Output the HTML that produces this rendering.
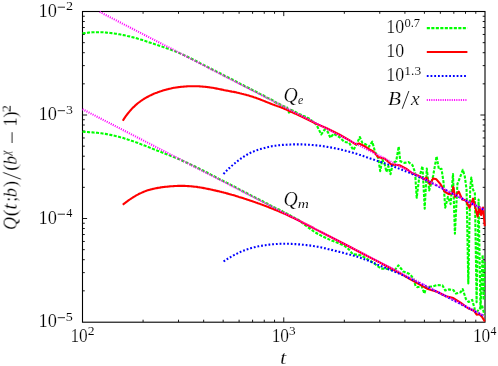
<!DOCTYPE html>
<html lang="en">
<head>
<meta charset="utf-8">
<title>Q(t;b) scaling plot</title>
<style>
html,body{margin:0;padding:0;background:#ffffff;}
body{width:498px;height:366px;overflow:hidden;font-family:"Liberation Serif",serif;}
svg{display:block;}
text{font-family:"Liberation Serif",serif;}
</style>
</head>
<body>
<svg width="498" height="366" viewBox="0 0 498 366">
<rect width="498" height="366" fill="#ffffff"/>
<defs><clipPath id="c"><rect x="82.0" y="11.0" width="403.9" height="311.5"/></clipPath></defs>
<path d="M143.08,322.00v-2.30M143.08,11.50v2.30M178.52,322.00v-2.30M178.52,11.50v2.30M203.66,322.00v-2.30M203.66,11.50v2.30M223.17,322.00v-2.30M223.17,11.50v2.30M239.10,322.00v-2.30M239.10,11.50v2.30M252.58,322.00v-2.30M252.58,11.50v2.30M264.25,322.00v-2.30M264.25,11.50v2.30M274.54,322.00v-2.30M274.54,11.50v2.30M283.75,322.00v-4.60M283.75,11.50v4.60M344.33,322.00v-2.30M344.33,11.50v2.30M379.77,322.00v-2.30M379.77,11.50v2.30M404.91,322.00v-2.30M404.91,11.50v2.30M424.42,322.00v-2.30M424.42,11.50v2.30M440.35,322.00v-2.30M440.35,11.50v2.30M453.83,322.00v-2.30M453.83,11.50v2.30M465.50,322.00v-2.30M465.50,11.50v2.30M475.79,322.00v-2.30M475.79,11.50v2.30M82.50,290.84h2.30M485.00,290.84h-2.30M82.50,272.62h2.30M485.00,272.62h-2.30M82.50,259.69h2.30M485.00,259.69h-2.30M82.50,249.66h2.30M485.00,249.66h-2.30M82.50,241.46h2.30M485.00,241.46h-2.30M82.50,234.53h2.30M485.00,234.53h-2.30M82.50,228.53h2.30M485.00,228.53h-2.30M82.50,223.24h2.30M485.00,223.24h-2.30M82.50,218.50h4.60M485.00,218.50h-4.60M82.50,187.34h2.30M485.00,187.34h-2.30M82.50,169.12h2.30M485.00,169.12h-2.30M82.50,156.19h2.30M485.00,156.19h-2.30M82.50,146.16h2.30M485.00,146.16h-2.30M82.50,137.96h2.30M485.00,137.96h-2.30M82.50,131.03h2.30M485.00,131.03h-2.30M82.50,125.03h2.30M485.00,125.03h-2.30M82.50,119.74h2.30M485.00,119.74h-2.30M82.50,115.00h4.60M485.00,115.00h-4.60M82.50,83.84h2.30M485.00,83.84h-2.30M82.50,65.62h2.30M485.00,65.62h-2.30M82.50,52.69h2.30M485.00,52.69h-2.30M82.50,42.66h2.30M485.00,42.66h-2.30M82.50,34.46h2.30M485.00,34.46h-2.30M82.50,27.53h2.30M485.00,27.53h-2.30M82.50,21.53h2.30M485.00,21.53h-2.30M82.50,16.24h2.30M485.00,16.24h-2.30" fill="none" stroke="#000" stroke-width="0.9"/>
<rect x="82.5" y="11.5" width="402.5" height="310.7" fill="none" stroke="#000" stroke-width="1.1"/>
<g fill="none" stroke-linejoin="round" stroke-linecap="butt" clip-path="url(#c)">
<polyline stroke="#00ff00" stroke-width="2.1" stroke-dasharray="3.1 1.4" points="82.5,33.4 83.5,33.2 84.5,33.1 85.5,33.0 86.5,32.8 87.5,32.7 88.5,32.6 89.5,32.5 90.5,32.5 91.5,32.4 92.5,32.3 93.5,32.3 94.5,32.2 95.5,32.2 96.5,32.2 97.5,32.2 98.5,32.2 99.5,32.2 100.5,32.2 101.5,32.3 102.5,32.3 103.5,32.3 104.5,32.4 105.5,32.5 106.5,32.6 107.5,32.7 108.5,32.8 109.5,32.9 110.5,33.0 111.5,33.1 112.5,33.2 113.5,33.4 114.5,33.5 115.5,33.7 116.5,33.8 117.5,34.0 118.5,34.2 119.5,34.3 120.5,34.5 121.5,34.7 122.5,34.9 123.5,35.1 124.5,35.3 125.5,35.5 126.5,35.7 127.5,36.0 128.5,36.2 129.5,36.4 130.5,36.7 131.5,36.9 132.5,37.2 133.5,37.4 134.5,37.7 135.5,38.0 136.5,38.3 137.5,38.6 138.5,38.9 139.5,39.2 140.5,39.5 141.5,39.8 142.5,40.1 143.5,40.4 144.5,40.7 145.5,41.1 146.5,41.4 147.5,41.7 148.5,42.1 149.5,42.4 150.5,42.7 151.5,43.1 152.5,43.4 153.5,43.7 154.5,44.1 155.5,44.4 156.5,44.7 157.5,45.1 158.5,45.4 159.5,45.8 160.5,46.1 161.5,46.4 162.5,46.8 163.5,47.1 164.5,47.5 165.5,47.8 166.5,48.2 167.5,48.5 168.5,48.9 169.5,49.2 170.5,49.6 171.5,50.0 172.5,50.4 173.5,50.7 174.5,51.1 175.5,51.5 176.5,51.9 177.5,52.3 178.5,52.7 179.5,53.1 180.5,53.6 181.5,54.0 182.5,54.4 183.5,54.9 184.5,55.4 185.5,55.8 186.5,56.3 187.5,56.8 188.5,57.3 189.5,57.7 190.5,58.2 191.5,58.7 192.5,59.2 193.5,59.8 194.5,60.3 195.5,60.8 196.5,61.3 197.5,61.8 198.5,62.3 199.5,62.8 200.5,63.4 201.5,63.9 202.5,64.4 203.5,64.9 204.5,65.4 205.5,66.0 206.5,66.5 207.5,67.0 208.5,67.5 209.5,68.0 210.5,68.5 211.5,69.0 212.5,69.5 213.5,70.0 214.5,70.5 215.0,70.7 217.0,71.8 219.0,72.8 221.0,73.8 223.0,74.8 225.0,76.0 227.0,77.0 229.0,77.8 231.0,78.9 233.0,79.8 235.0,81.0 237.0,81.9 239.0,83.1 241.0,84.2 243.0,85.0 245.0,86.3 247.0,87.2 249.0,88.0 251.0,89.3 253.0,90.2 255.0,91.3 257.0,92.2 259.0,93.5 261.0,94.4 263.0,95.2 265.0,96.5 267.0,97.7 269.0,98.4 271.0,99.4 273.0,100.5 275.0,102.0 277.0,103.0 279.0,103.8 281.0,105.0 283.0,106.0 285.0,106.7 287.0,107.5 289.0,112.6 291.0,109.9 293.0,110.8 295.0,111.7 297.0,112.9 299.0,114.0 301.0,114.8 303.0,115.8 304.9,116.5 309.8,118.9 316.4,124.7 321.3,134.5 324.6,129.6 327.9,132.0 330.3,137.8 333.6,133.7 339.3,137.0 344.3,141.9 349.2,142.7 353.3,150.1 356.6,144.3 359.8,137.0 362.3,142.7 365.6,144.3 368.9,146.8 372.3,141.6 374.9,151.4 378.2,158.0 380.2,171.1 382.3,159.6 384.8,164.5 386.4,171.9 388.4,166.1 390.5,174.3 393.0,162.9 396.2,161.2 398.7,146.5 400.3,161.2 404.4,162.9 408.5,162.0 412.6,165.3 415.1,172.7 416.7,197.8 419.2,177.6 422.5,166.1 424.7,208.6 426.8,168.5 429.2,190.5 433.1,176.0 436.6,156.3 438.9,169.4 441.5,168.8 443.5,182.0 445.2,207.7 447.9,196.9 450.6,204.1 453.0,174.0 454.9,233.6 457.4,184.0 459.8,178.0 462.8,169.8 464.8,176.4 466.6,190.0 468.3,283.4 470.2,188.0 471.3,177.5 473.0,189.5 474.9,193.5 476.6,302.2 478.6,199.5 480.5,309.5 482.6,255.0 483.6,300.0 484.6,262.0"/>
<polyline stroke="#00ff00" stroke-width="2.1" stroke-dasharray="3.1 1.4" points="82.5,131.8 83.5,131.8 84.5,131.9 85.5,131.9 86.5,132.0 87.5,132.0 88.5,132.1 89.5,132.2 90.5,132.2 91.5,132.3 92.5,132.4 93.5,132.5 94.5,132.6 95.5,132.6 96.5,132.7 97.5,132.8 98.5,133.0 99.5,133.1 100.5,133.2 101.5,133.3 102.5,133.5 103.5,133.6 104.5,133.8 105.5,133.9 106.5,134.1 107.5,134.3 108.5,134.5 109.5,134.7 110.5,134.9 111.5,135.1 112.5,135.3 113.5,135.5 114.5,135.7 115.5,136.0 116.5,136.2 117.5,136.5 118.5,136.7 119.5,137.0 120.5,137.3 121.5,137.5 122.5,137.8 123.5,138.1 124.5,138.4 125.5,138.7 126.5,139.0 127.5,139.4 128.5,139.7 129.5,140.0 130.5,140.3 131.5,140.7 132.5,141.0 133.5,141.4 134.5,141.7 135.5,142.1 136.5,142.5 137.5,142.8 138.5,143.2 139.5,143.6 140.5,144.0 141.5,144.4 142.5,144.7 143.5,145.1 144.5,145.5 145.5,145.9 146.5,146.3 147.5,146.7 148.5,147.1 149.5,147.5 150.5,147.9 151.5,148.3 152.5,148.7 153.5,149.1 154.5,149.5 155.5,149.9 156.5,150.3 157.5,150.7 158.5,151.0 159.5,151.4 160.5,151.8 161.5,152.2 162.5,152.6 163.5,153.0 164.5,153.4 165.5,153.8 166.5,154.2 167.5,154.6 168.5,155.0 169.5,155.4 170.5,155.8 171.5,156.2 172.5,156.6 173.5,157.0 174.5,157.4 175.5,157.8 176.5,158.2 177.5,158.6 178.5,159.0 179.5,159.4 180.5,159.9 181.5,160.3 182.5,160.7 183.5,161.2 184.5,161.6 185.5,162.1 186.5,162.5 187.5,163.0 188.5,163.4 189.5,163.9 190.5,164.4 191.5,164.9 192.5,165.3 193.5,165.8 194.5,166.3 195.5,166.8 196.5,167.3 197.5,167.8 198.5,168.3 199.5,168.8 200.5,169.3 201.5,169.8 202.5,170.3 203.5,170.8 204.5,171.3 205.5,171.8 206.5,172.3 207.5,172.8 208.5,173.3 209.5,173.8 210.5,174.4 211.5,174.9 212.5,175.4 213.5,175.9 214.5,176.4 215.0,176.7 217.0,177.8 219.0,178.9 221.0,179.9 223.0,180.8 225.0,181.9 227.0,182.9 229.0,183.9 231.0,184.9 233.0,186.0 235.0,186.9 237.0,188.1 239.0,189.1 241.0,190.2 243.0,191.3 245.0,192.3 247.0,193.3 249.0,194.2 251.0,195.4 253.0,196.3 255.0,197.4 257.0,198.3 259.0,199.4 261.0,200.2 263.0,201.4 265.0,202.8 267.0,203.4 269.0,204.7 271.0,205.7 273.0,206.8 275.0,207.7 277.0,208.8 279.0,209.5 281.0,210.5 283.0,211.6 285.0,212.6 287.0,213.6 289.0,214.6 291.0,216.0 293.0,216.7 295.0,218.3 297.0,219.2 299.0,220.1 300.0,221.3 307.0,226.5 314.8,232.2 322.0,236.2 329.5,239.6 337.0,242.6 344.3,245.7 349.0,249.5 352.9,254.3 357.0,254.6 361.5,255.6 367.0,259.0 373.8,263.0 378.0,266.5 381.1,268.6 385.0,268.6 388.5,269.1 392.0,270.2 394.7,270.3 398.4,265.4 401.0,268.5 403.3,271.6 406.0,272.3 409.4,274.0 411.5,276.0 413.6,279.1 415.6,286.3 417.2,287.2 421.7,286.3 424.4,293.6 426.2,287.2 433.4,286.3 437.0,285.1 442.5,285.4 445.2,290.5 448.8,289.4 453.3,290.0 456.0,293.6 460.5,292.3 462.7,289.0 465.9,299.0 468.6,302.0 472.2,299.9 474.9,309.8 477.1,311.6 479.4,308.9 482.1,305.3 484.6,316.0"/>
<polyline stroke="#ff0000" stroke-width="2.1" points="122.8,120.7 123.8,119.1 124.8,117.6 125.8,116.2 126.8,114.8 127.8,113.5 128.8,112.3 129.8,111.1 130.8,110.0 131.8,108.9 132.8,107.8 133.8,106.9 134.8,105.9 135.8,105.0 136.8,104.1 137.8,103.3 138.8,102.5 139.8,101.8 140.8,101.0 141.8,100.3 142.8,99.7 143.8,99.0 144.8,98.4 145.8,97.8 146.8,97.2 147.8,96.7 148.8,96.2 149.8,95.6 150.8,95.2 151.8,94.7 152.8,94.3 153.8,93.8 154.8,93.4 155.8,93.0 156.8,92.7 157.8,92.3 158.8,91.9 159.8,91.6 160.8,91.3 161.8,90.9 162.8,90.6 163.8,90.3 164.8,90.0 165.8,89.7 166.8,89.4 167.8,89.2 168.8,88.9 169.8,88.7 170.8,88.5 171.8,88.2 172.8,88.0 173.8,87.8 174.8,87.7 175.8,87.5 176.8,87.4 177.8,87.2 178.8,87.1 179.8,87.0 180.8,86.9 181.8,86.8 182.8,86.7 183.8,86.6 184.8,86.5 185.8,86.5 186.8,86.4 187.8,86.3 188.8,86.3 189.8,86.3 190.8,86.2 191.8,86.2 192.8,86.2 193.8,86.2 194.8,86.2 195.8,86.2 196.8,86.3 197.8,86.3 198.8,86.3 199.8,86.4 200.8,86.5 201.8,86.5 202.8,86.6 203.8,86.7 204.8,86.8 205.8,86.9 206.8,87.0 207.8,87.1 208.8,87.2 209.8,87.4 210.8,87.5 211.8,87.7 212.8,87.8 213.8,88.0 214.8,88.2 215.8,88.4 216.8,88.6 217.8,88.8 218.8,89.0 219.8,89.2 220.8,89.4 221.8,89.6 222.8,89.8 223.8,90.1 224.8,90.3 225.8,90.5 226.8,90.6 227.8,90.8 228.8,91.0 229.8,91.2 230.8,91.4 231.8,91.6 232.8,91.7 233.8,91.9 234.8,92.1 235.8,92.3 236.8,92.6 237.8,92.8 238.8,93.0 239.8,93.3 240.8,93.5 241.8,93.8 242.8,94.0 243.8,94.3 244.8,94.5 245.8,94.8 246.8,95.1 247.8,95.3 248.8,95.6 249.8,95.9 250.8,96.2 251.8,96.5 252.8,96.8 253.8,97.2 254.8,97.5 255.8,97.8 256.8,98.2 257.8,98.6 258.8,98.9 259.8,99.3 260.8,99.7 261.8,100.1 262.8,100.5 263.8,100.9 264.8,101.3 265.8,101.7 266.8,102.1 267.8,102.5 268.8,102.9 269.8,103.3 270.8,103.7 271.8,104.1 272.8,104.5 273.8,104.8 274.8,105.2 275.8,105.5 276.8,105.9 277.8,106.2 278.8,106.6 279.8,106.9 280.8,107.3 281.8,107.7 282.8,108.1 283.8,108.5 284.8,109.0 285.8,109.4 286.8,109.9 287.8,110.3 288.8,110.8 289.8,111.2 290.8,111.7 291.8,112.1 292.8,112.6 293.8,113.0 294.8,113.5 295.8,113.9 296.8,114.4 297.8,114.9 298.8,115.3 299.8,115.8 300.0,115.9 316.4,123.9 326.2,128.0 339.3,134.5 349.2,140.2 355.7,144.3 359.0,143.5 365.6,146.8 370.0,149.8 373.3,151.4 378.2,157.1 384.8,158.8 391.3,164.5 399.5,165.3 406.1,168.6 412.6,173.5 419.2,176.0 424.1,179.3 426.6,177.6 429.8,184.2 433.1,178.4 436.4,179.3 440.5,184.2 444.6,191.6 448.8,194.2 452.4,193.3 453.3,187.0 455.0,196.9 458.7,191.5 462.3,199.6 465.9,200.5 469.5,207.9 473.1,198.7 477.6,216.5 479.4,207.0 481.2,215.0 483.0,207.5 484.8,226.1"/>
<polyline stroke="#ff0000" stroke-width="2.1" points="122.8,204.7 123.8,203.9 124.8,203.2 125.8,202.4 126.8,201.7 127.8,200.9 128.8,200.2 129.8,199.5 130.8,198.8 131.8,198.2 132.8,197.5 133.8,196.9 134.8,196.3 135.8,195.7 136.8,195.1 137.8,194.6 138.8,194.0 139.8,193.5 140.8,193.1 141.8,192.6 142.8,192.2 143.8,191.8 144.8,191.4 145.8,191.0 146.8,190.6 147.8,190.3 148.8,190.0 149.8,189.7 150.8,189.4 151.8,189.2 152.8,188.9 153.8,188.7 154.8,188.5 155.8,188.3 156.8,188.1 157.8,187.9 158.8,187.7 159.8,187.6 160.8,187.4 161.8,187.3 162.8,187.1 163.8,187.0 164.8,186.9 165.8,186.8 166.8,186.7 167.8,186.6 168.8,186.5 169.8,186.4 170.8,186.3 171.8,186.2 172.8,186.2 173.8,186.1 174.8,186.0 175.8,186.0 176.8,186.0 177.8,185.9 178.8,185.9 179.8,185.9 180.8,185.9 181.8,185.9 182.8,185.9 183.8,185.9 184.8,185.9 185.8,186.0 186.8,186.0 187.8,186.1 188.8,186.1 189.8,186.2 190.8,186.3 191.8,186.4 192.8,186.5 193.8,186.6 194.8,186.7 195.8,186.8 196.8,186.9 197.8,187.1 198.8,187.2 199.8,187.4 200.8,187.5 201.8,187.7 202.8,187.9 203.8,188.1 204.8,188.3 205.8,188.5 206.8,188.7 207.8,188.9 208.8,189.1 209.8,189.3 210.8,189.5 211.8,189.7 212.8,189.9 213.8,190.2 214.8,190.4 215.8,190.6 216.8,190.9 217.8,191.1 218.8,191.3 219.8,191.6 220.8,191.8 221.8,192.1 222.8,192.3 223.8,192.6 224.8,192.8 225.8,193.1 226.8,193.4 227.8,193.6 228.8,193.9 229.8,194.2 230.8,194.5 231.8,194.8 232.8,195.0 233.8,195.3 234.8,195.6 235.8,195.9 236.8,196.2 237.8,196.5 238.8,196.9 239.8,197.2 240.8,197.5 241.8,197.8 242.8,198.1 243.8,198.4 244.8,198.8 245.8,199.1 246.8,199.4 247.8,199.7 248.8,200.1 249.8,200.4 250.8,200.7 251.8,201.1 252.8,201.4 253.8,201.8 254.8,202.1 255.8,202.5 256.8,202.8 257.8,203.2 258.8,203.5 259.8,203.9 260.8,204.3 261.8,204.6 262.8,205.0 263.8,205.4 264.8,205.8 265.8,206.1 266.8,206.5 267.8,206.9 268.8,207.3 269.8,207.7 270.8,208.1 271.8,208.5 272.8,208.9 273.8,209.3 274.8,209.7 275.8,210.1 276.8,210.5 277.8,210.9 278.8,211.4 279.8,211.8 280.8,212.2 281.8,212.6 282.8,213.1 283.8,213.5 284.8,213.9 285.8,214.4 286.8,214.8 287.8,215.3 288.8,215.7 289.8,216.2 290.8,216.7 291.8,217.2 292.8,217.6 293.8,218.1 294.8,218.6 295.8,219.1 296.8,219.6 297.8,220.1 298.8,220.6 299.8,221.1 300.8,221.6 301.8,222.1 302.8,222.6 303.8,223.2 304.8,223.7 305.8,224.2 306.8,224.7 307.8,225.2 308.8,225.7 309.8,226.3 310.8,226.8 311.8,227.3 312.8,227.8 313.8,228.3 314.8,228.9 315.8,229.4 316.8,229.9 317.8,230.4 318.8,230.9 319.8,231.4 320.0,231.5 340.0,241.8 360.0,252.2 380.0,262.6 400.0,273.2 410.0,279.1 428.0,289.1 437.0,291.8 446.1,296.3 453.3,298.1 460.5,302.6 467.7,308.0 474.0,310.7 476.7,314.7 479.4,314.3 482.1,317.0 484.8,321.5"/>
<polyline stroke="#0000ff" stroke-width="2.1" stroke-dasharray="1.8 1.93" points="223.5,174.0 224.5,172.9 225.5,171.8 226.5,170.8 227.5,169.8 228.5,168.8 229.5,167.9 230.5,166.9 231.5,166.0 232.5,165.2 233.5,164.3 234.5,163.5 235.5,162.7 236.5,161.9 237.5,161.1 238.5,160.4 239.5,159.7 240.5,158.9 241.5,158.2 242.5,157.6 243.5,156.9 244.5,156.2 245.5,155.6 246.5,155.0 247.5,154.4 248.5,153.9 249.5,153.3 250.5,152.8 251.5,152.3 252.5,151.9 253.5,151.5 254.5,151.1 255.5,150.7 256.5,150.4 257.5,150.0 258.5,149.7 259.5,149.4 260.5,149.1 261.5,148.8 262.5,148.5 263.5,148.3 264.5,148.0 265.5,147.7 266.5,147.5 267.5,147.2 268.5,147.0 269.5,146.8 270.5,146.5 271.5,146.3 272.5,146.1 273.5,146.0 274.5,145.8 275.5,145.7 276.5,145.5 277.5,145.4 278.5,145.3 279.5,145.2 280.5,145.1 281.5,145.0 282.5,144.9 283.5,144.9 284.5,144.8 285.5,144.7 286.5,144.7 287.5,144.6 288.5,144.6 289.5,144.6 290.5,144.5 291.5,144.5 292.5,144.5 293.5,144.4 294.5,144.4 295.5,144.4 296.5,144.4 297.5,144.4 298.5,144.4 299.5,144.4 300.5,144.4 301.5,144.4 302.5,144.5 303.5,144.5 304.5,144.5 305.5,144.6 306.5,144.6 307.5,144.7 308.5,144.7 309.5,144.8 310.5,144.8 311.5,144.9 312.5,145.0 313.5,145.1 314.5,145.2 315.5,145.3 316.5,145.4 317.5,145.5 318.5,145.6 319.5,145.7 320.5,145.8 321.5,146.0 322.5,146.1 323.5,146.2 324.5,146.4 325.5,146.5 326.5,146.7 327.5,146.9 328.5,147.0 329.5,147.2 330.5,147.4 331.5,147.6 332.5,147.8 333.5,148.0 334.5,148.2 335.5,148.4 336.5,148.6 337.5,148.8 338.5,149.0 339.5,149.2 340.5,149.5 341.5,149.7 342.5,150.0 343.5,150.2 344.5,150.5 345.5,150.7 346.5,151.0 347.5,151.2 348.5,151.5 349.5,151.8 350.5,152.0 351.5,152.3 352.5,152.6 353.5,152.9 354.5,153.2 355.5,153.5 356.5,153.8 357.5,154.1 358.5,154.4 359.5,154.8 360.5,155.1 361.5,155.4 362.5,155.8 363.5,156.1 364.5,156.5 365.5,156.8 366.5,157.2 367.5,157.5 368.5,157.9 369.5,158.2 370.5,158.6 371.5,158.9 372.5,159.3 373.5,159.6 374.5,159.9 375.5,160.3 376.5,160.6 377.5,160.9 378.5,161.3 379.5,161.6 380.5,161.9 381.5,162.2 382.5,162.6 383.5,162.9 384.5,163.2 385.5,163.6 386.5,163.9 387.5,164.3 388.5,164.6 389.5,165.0 390.5,165.3 391.5,165.7 392.5,166.1 393.5,166.4 394.5,166.8 395.5,167.2 396.5,167.6 397.5,168.0 398.5,168.4 399.5,168.8 400.5,169.2 401.5,169.6 402.5,170.0 403.5,170.4 404.5,170.8 405.5,171.2 406.5,171.6 407.5,172.0 408.5,172.4 409.5,172.9 410.5,173.3 411.5,173.7 412.5,174.1 413.5,174.5 414.5,174.9 415.5,175.4 416.5,175.8 417.5,176.2 418.5,176.6 419.5,177.0 420.0,177.2 421.0,177.4 422.0,178.0 423.0,178.5 424.0,179.0 425.0,179.5 426.0,180.0 427.0,180.5 428.0,181.0 429.0,181.6 430.0,182.1 431.0,182.6 432.0,183.1 433.0,183.6 434.0,184.1 435.0,184.6 436.0,185.2 437.0,185.7 438.0,186.2 439.0,186.7 440.0,187.2 441.0,187.7 442.0,188.2 443.0,188.8 444.0,189.3 445.0,189.8 446.0,190.3 447.0,190.8 448.0,191.3 449.0,191.8 450.0,192.4 451.0,192.9 452.0,193.4 453.0,193.9 454.0,194.4 455.0,194.9 456.0,195.4 457.0,196.0 458.0,196.5 459.0,197.0 460.0,197.5 461.0,198.0 462.0,198.5 463.0,199.0 464.0,199.6 465.0,200.1 466.0,200.6 467.0,201.1 468.0,201.6 469.0,202.1 470.0,202.6 471.0,203.2 472.0,203.7 473.0,204.2 474.0,204.7 475.0,205.2 476.0,205.7 477.0,206.2 478.0,206.8 479.0,207.3 480.0,207.8 481.0,208.3 482.0,208.8 483.0,209.3 484.0,209.8 484.8,210.0"/>
<polyline stroke="#0000ff" stroke-width="2.1" stroke-dasharray="1.8 1.93" points="223.5,261.4 224.5,260.8 225.5,260.1 226.5,259.5 227.5,258.9 228.5,258.3 229.5,257.7 230.5,257.1 231.5,256.6 232.5,256.0 233.5,255.4 234.5,254.9 235.5,254.4 236.5,253.9 237.5,253.4 238.5,252.9 239.5,252.4 240.5,251.9 241.5,251.5 242.5,251.1 243.5,250.7 244.5,250.3 245.5,249.9 246.5,249.5 247.5,249.2 248.5,248.9 249.5,248.6 250.5,248.3 251.5,248.0 252.5,247.7 253.5,247.4 254.5,247.2 255.5,247.0 256.5,246.7 257.5,246.5 258.5,246.3 259.5,246.1 260.5,245.9 261.5,245.8 262.5,245.6 263.5,245.4 264.5,245.3 265.5,245.2 266.5,245.0 267.5,244.9 268.5,244.8 269.5,244.6 270.5,244.5 271.5,244.4 272.5,244.3 273.5,244.2 274.5,244.2 275.5,244.1 276.5,244.0 277.5,244.0 278.5,243.9 279.5,243.9 280.5,243.8 281.5,243.8 282.5,243.8 283.5,243.8 284.5,243.8 285.5,243.8 286.5,243.8 287.5,243.8 288.5,243.8 289.5,243.8 290.5,243.9 291.5,243.9 292.5,244.0 293.5,244.0 294.5,244.1 295.5,244.1 296.5,244.2 297.5,244.3 298.5,244.4 299.5,244.4 300.5,244.5 301.5,244.6 302.5,244.7 303.5,244.8 304.5,244.9 305.5,245.0 306.5,245.1 307.5,245.2 308.5,245.3 309.5,245.4 310.5,245.6 311.5,245.7 312.5,245.8 313.5,246.0 314.5,246.2 315.5,246.3 316.5,246.5 317.5,246.7 318.5,246.9 319.5,247.1 320.5,247.3 321.5,247.5 322.5,247.7 323.5,248.0 324.5,248.2 325.5,248.4 326.5,248.7 327.5,248.9 328.5,249.2 329.5,249.4 330.5,249.6 331.5,249.9 332.5,250.1 333.5,250.4 334.5,250.6 335.5,250.9 336.5,251.1 337.5,251.4 338.5,251.6 339.5,251.9 340.5,252.1 341.5,252.4 342.5,252.6 343.5,252.9 344.5,253.2 345.5,253.4 346.5,253.7 347.5,253.9 348.5,254.2 349.5,254.5 350.5,254.7 351.5,255.0 352.5,255.3 353.5,255.6 354.5,255.9 355.5,256.2 356.5,256.5 357.5,256.8 358.5,257.1 359.5,257.5 360.5,257.8 361.5,258.2 362.5,258.5 363.5,258.9 364.5,259.3 365.5,259.6 366.5,260.0 367.5,260.4 368.5,260.8 369.5,261.2 370.5,261.6 371.5,262.0 372.5,262.5 373.5,262.9 374.5,263.3 375.5,263.7 376.5,264.1 377.5,264.6 378.5,265.0 379.5,265.4 380.5,265.8 381.5,266.2 382.5,266.7 383.5,267.1 384.5,267.5 385.5,267.9 386.5,268.4 387.5,268.8 388.5,269.2 389.5,269.6 390.5,270.0 391.5,270.4 392.5,270.9 393.5,271.3 394.5,271.7 395.5,272.1 396.5,272.5 397.5,272.9 398.5,273.4 399.5,273.8 400.5,274.2 401.5,274.6 402.5,275.1 403.5,275.5 404.5,275.9 405.5,276.4 406.5,276.8 407.5,277.3 408.5,277.7 409.5,278.2 410.5,278.6 411.5,279.1 412.5,279.6 413.5,280.1 414.5,280.6 415.5,281.1 416.5,281.6 417.5,282.1 418.5,282.6 419.5,283.1 420.0,283.4 421.0,283.6 422.0,284.1 423.0,284.6 424.0,285.1 425.0,285.6 426.0,286.2 427.0,286.7 428.0,287.2 429.0,287.7 430.0,288.2 431.0,288.7 432.0,289.2 433.0,289.8 434.0,290.3 435.0,290.8 436.0,291.3 437.0,291.8 438.0,292.3 439.0,292.8 440.0,293.4 441.0,293.9 442.0,294.4 443.0,294.9 444.0,295.4 445.0,295.9 446.0,296.4 447.0,297.0 448.0,297.5 449.0,298.0 450.0,298.5 451.0,299.0 452.0,299.5 453.0,300.0 454.0,300.6 455.0,301.1 456.0,301.6 457.0,302.1 458.0,302.6 459.0,303.1 460.0,303.6 461.0,304.2 462.0,304.7 463.0,305.2 464.0,305.7 465.0,306.2 466.0,306.7 467.0,307.2 468.0,307.8 469.0,308.3 470.0,308.8 471.0,309.3 472.0,309.8 473.0,310.3 474.0,310.8 475.0,311.4 476.0,311.9 477.0,312.4 478.0,312.9 479.0,313.4 480.0,313.9 481.0,314.4 482.0,315.0 483.0,315.5 484.0,316.0 484.8,316.1"/>
<polyline stroke="#ff00ff" stroke-width="2.1" stroke-dasharray="1.05 1.22" points="99.7,11.9 484.8,210.0"/>
<polyline stroke="#ff00ff" stroke-width="2.1" stroke-dasharray="1.05 1.22" points="82.5,109.2 484.8,316.1"/>
</g>
<g fill="none">
<path stroke="#00ff00" stroke-width="2.1" stroke-dasharray="3.1 1.4" d="M426.8,28.1H467.4"/>
<path stroke="#ff0000" stroke-width="2.1" d="M426.8,52.0H467.4"/>
<path stroke="#0000ff" stroke-width="2.1" stroke-dasharray="1.8 1.93" d="M426.8,76.0H467.4"/>
<path stroke="#ff00ff" stroke-width="2.1" stroke-dasharray="1.05 1.22" d="M426.8,100.0H467.4"/>
</g>
<g fill="#000" stroke="#fff" opacity="0.999" font-family="Liberation Serif">
<text transform="translate(38.49,327.10) scale(1.034,1.000)" font-size="17.80" stroke-width="0.20">10</text>
<path d="M57.70,317.70H65.00" stroke="#000" stroke-width="0.85" fill="none"/>
<text transform="translate(65.79,320.70) scale(1.161,1.000)" font-size="12.20" stroke-width="0.08">5</text>
<text transform="translate(38.49,223.60) scale(1.034,1.000)" font-size="17.80" stroke-width="0.20">10</text>
<path d="M57.70,214.20H65.00" stroke="#000" stroke-width="0.85" fill="none"/>
<text transform="translate(66.35,217.20) scale(1.005,1.000)" font-size="12.20" stroke-width="0.08">4</text>
<text transform="translate(38.49,120.10) scale(1.034,1.000)" font-size="17.80" stroke-width="0.20">10</text>
<path d="M57.70,110.70H65.00" stroke="#000" stroke-width="0.85" fill="none"/>
<text transform="translate(65.94,113.70) scale(1.133,1.000)" font-size="12.20" stroke-width="0.08">3</text>
<text transform="translate(38.49,16.60) scale(1.034,1.000)" font-size="17.80" stroke-width="0.20">10</text>
<path d="M57.70,7.20H65.00" stroke="#000" stroke-width="0.85" fill="none"/>
<text transform="translate(66.00,10.20) scale(1.161,1.000)" font-size="12.20" stroke-width="0.08">2</text>
<text transform="translate(70.38,342.00) scale(0.976,1.000)" font-size="17.80" stroke-width="0.20">10</text>
<text transform="translate(87.72,334.80) scale(1.068,1.000)" font-size="12.80" stroke-width="0.08">2</text>
<text transform="translate(271.63,342.00) scale(0.976,1.000)" font-size="17.80" stroke-width="0.20">10</text>
<text transform="translate(288.92,334.80) scale(1.042,1.000)" font-size="12.80" stroke-width="0.08">3</text>
<text transform="translate(472.88,342.00) scale(0.976,1.000)" font-size="17.80" stroke-width="0.20">10</text>
<text transform="translate(490.56,334.80) scale(0.924,1.000)" font-size="12.80" stroke-width="0.08">4</text>
<text transform="translate(279.88,363.70) scale(1.188,1.015)" font-size="19.00" stroke-width="0.20" font-style="italic">t</text>
<g transform="translate(16.6,229.0) rotate(-90)"><text transform="translate(-0.99,0.00) scale(1.011,1.094)" font-size="17.80" stroke-width="0.20" font-style="italic">Q</text><text transform="translate(12.58,0.00) scale(1.222,1.091)" font-size="17.80" stroke-width="0.20">(</text><text transform="translate(19.20,0.00) scale(1.246,1.153)" font-size="17.80" stroke-width="0.20" font-style="italic">t</text><text transform="translate(27.25,0.00) scale(1.011,1.000)" font-size="17.80" stroke-width="0.20">;</text><text transform="translate(31.81,0.00) scale(1.039,1.043)" font-size="17.80" stroke-width="0.20" font-style="italic">b</text><text transform="translate(41.78,0.00) scale(1.069,1.091)" font-size="17.80" stroke-width="0.20">)</text><path d="M49.8,4.3L56.6,-13.5" stroke="#000" stroke-width="0.85" fill="none"/><text transform="translate(57.99,0.00) scale(1.200,1.091)" font-size="17.80" stroke-width="0.20">(</text><text transform="translate(64.34,0.00) scale(0.987,1.043)" font-size="17.80" stroke-width="0.20" font-style="italic">b</text><text transform="translate(73.74,-6.60) scale(0.865,1.000)" font-size="12.20" stroke-width="0.08" font-style="italic">χ</text><path d="M86.00,-4.55H96.80" stroke="#000" stroke-width="0.85" fill="none"/><text transform="translate(102.14,0.00) scale(1.068,1.000)" font-size="17.80" stroke-width="0.20">1</text><text transform="translate(111.18,0.00) scale(1.069,1.091)" font-size="17.80" stroke-width="0.20">)</text><text transform="translate(116.69,-6.50) scale(1.181,1.000)" font-size="12.20" stroke-width="0.08">2</text></g>
<text transform="translate(386.23,32.90) scale(1.008,1.000)" font-size="17.80" stroke-width="0.20">10</text>
<text transform="translate(404.43,26.90) scale(1.031,1.000)" font-size="12.20" stroke-width="0.08">0.7</text>
<text transform="translate(386.23,56.80) scale(1.008,1.000)" font-size="17.80" stroke-width="0.20">10</text>
<text transform="translate(386.23,80.80) scale(1.008,1.000)" font-size="17.80" stroke-width="0.20">10</text>
<text transform="translate(404.32,74.80) scale(1.103,1.000)" font-size="12.20" stroke-width="0.08">1.3</text>
<text transform="translate(387.99,104.70) scale(1.140,1.000)" font-size="18.60" stroke-width="0.20" font-style="italic">B</text>
<path d="M402.2,108.8L408.9,91.0" stroke="#000" stroke-width="0.85" fill="none"/>
<text transform="translate(411.04,104.70) scale(1.051,1.000)" font-size="18.60" stroke-width="0.20" font-style="italic">x</text>
<text transform="translate(283.62,102.20) scale(1.059,1.120)" font-size="18.60" stroke-width="0.20" font-style="italic">Q</text>
<text transform="translate(298.04,104.10) scale(0.966,1.000)" font-size="12.40" stroke-width="0.08" font-style="italic">e</text>
<text transform="translate(283.62,206.00) scale(1.059,1.120)" font-size="18.60" stroke-width="0.20" font-style="italic">Q</text>
<text transform="translate(297.86,207.60) scale(1.238,1.000)" font-size="12.40" stroke-width="0.08" font-style="italic">m</text>
</g>
</svg>
</body>
</html>
